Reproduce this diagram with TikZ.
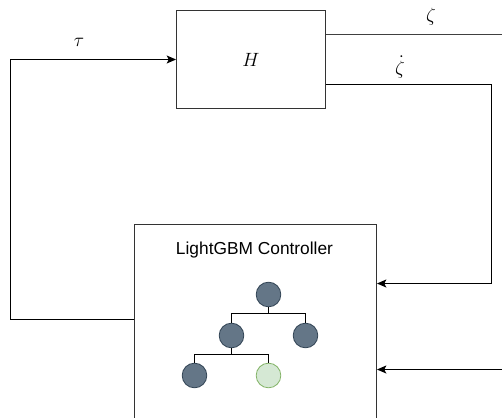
\documentclass[tikz,border=0pt]{standalone}
\usepackage{fontspec}
\setmainfont{Liberation Sans}
\usetikzlibrary{arrows.meta}
\tikzset{
	blockbox/.style={draw=black!80,line width=0.75pt,inner sep=0pt},
	treenode/.style={circle,draw=treeline,fill=treefill,line width=0.6pt,minimum size=18.5pt,inner sep=0pt},
	leafnode/.style={treenode,draw=leafline,fill=leaffill},
	mathlabel/.style={font=\Large,inner sep=0pt},
}
\definecolor{treefill}{HTML}{647687}
\definecolor{treeline}{HTML}{314354}
\definecolor{leaffill}{HTML}{D5E8D4}
\definecolor{leafline}{HTML}{82B366}
\begin{document}
\begin{tikzpicture}[x=0.75pt,y=-0.75pt,>={Stealth[length=7pt,width=6pt,inset=1.5pt]},line width=0.75pt]
		\useasboundingbox (0,0) rectangle (502,417);
		\clip (0,0) rectangle (502,417);
		\node[blockbox,mathlabel,minimum width=111.75pt,minimum height=73.5pt] (H) at (251,59.5) {$H$};
		\node[blockbox,minimum width=181.5pt,minimum height=180pt] (ctrl) at (255.5,344.5) {};
		\node[font=\fontsize{13}{15}\selectfont] (ctrltitle) at (254.5,250) {LightGBM Controller};
		% tree
		\node[treenode] (root) at (268.5,294.5) {};
		\node[treenode] (midl) at (231.5,335.5) {};
		\node[treenode] (midr) at (305.5,335.5) {};
		\node[treenode] (leafl) at (194.5,375.5) {};
		\node[leafnode] (leafr) at (268.5,375.5) {};
		\coordinate (forka) at (268.5,313.5);
		\coordinate (forkb) at (231.5,354.5);
		\draw (root)--(forka);
		\draw (midl) |- (forka) -| (midr);
		\draw (midl)--(forkb);
		\draw (leafl) |- (forkb) -| (leafr);
		% signals
		\coordinate (tauout) at (134,319.5);
		\coordinate (zetaend) at (502,35);
		\coordinate (zdotout) at (325,84.5);
		\coordinate (zdotcorner) at (491.5,283.5);
		\coordinate (extin) at (502,369.5);
		\draw[->] (ctrl.west |- tauout)--(10.5,319.5)--(10.5,59.5)--(H.west);
		\draw[black!75] (H.east |- zetaend)--(zetaend);
		\draw[->] (H.east |- zdotout)-|(zdotcorner)--(ctrl.east |- zdotcorner);
		\draw[->] (extin)--(ctrl.east |- extin);
		\node[mathlabel] (taulabel) at (79,42) {$\tau$};
		\node[mathlabel] (zetalabel) at (431,17) {$\zeta$};
		\node[mathlabel] (zdotlabel) at (400,67) {$\dot\zeta$};
\end{tikzpicture}
\end{document}
